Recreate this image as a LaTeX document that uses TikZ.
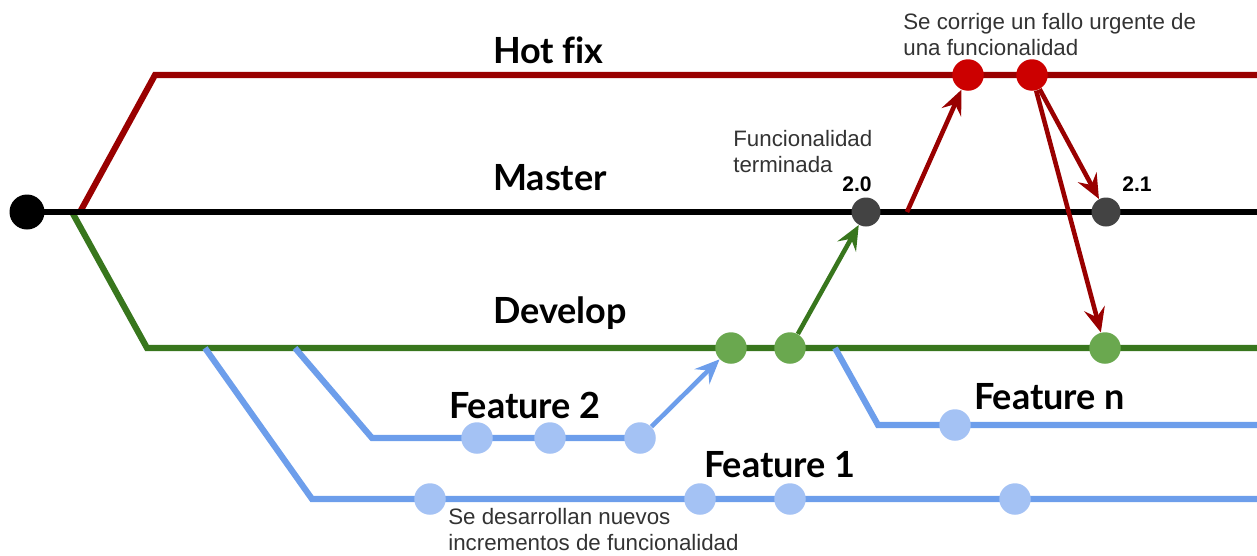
\documentclass[tikz,border=0pt]{standalone}
\usepackage{fontspec}
\setmainfont{Liberation Sans}
\newfontfamily\branchfont{Lato}[Ligatures=NoCommon]
\usetikzlibrary{arrows.meta}

\definecolor{hotline}{HTML}{990000}
\definecolor{hotdot}{HTML}{CC0000}
\definecolor{devline}{HTML}{38761D}
\definecolor{devdot}{HTML}{6AA84F}
\definecolor{featline}{HTML}{6D9EEB}
\definecolor{featdot}{HTML}{A4C2F4}
\definecolor{tagdot}{HTML}{434343}

\pgfdeclarelayer{lines}
\pgfsetlayers{lines,main}

\begin{document}
\begin{tikzpicture}[x=0.02cm, y=-0.02cm]
    \tikzstyle{branch} = [line width=3.5pt, line join=miter]
    \tikzstyle{merge} = [line width=2.6pt, -{Stealth[length=14pt, width=12pt, inset=5pt]}]
    \tikzstyle{commit} = [circle, inner sep=0pt, minimum size=0.63cm]
    \tikzstyle{title} = [anchor=west, font=\branchfont\bfseries\fontsize{20.5}{22}\selectfont]
    \tikzstyle{note} = [anchor=base west, align=left, inner sep=0pt, font=\fontsize{12.7}{14.7}\selectfont, text=black!80]
    \tikzstyle{version} = [font=\bfseries\fontsize{12}{14}\selectfont]
    \useasboundingbox (0, 0) rectangle (1257, 555);

    % corners of the branches
    \coordinate (hotfrom) at (80, 212);
    \coordinate (hotturn) at (155, 75);
    \coordinate (hotend) at (1257, 75);
    \coordinate (masterend) at (1257, 212);
    \coordinate (devfrom) at (72, 212);
    \coordinate (devturn) at (147, 348);
    \coordinate (devend) at (1257, 348);
    \coordinate (f1from) at (205, 348);
    \coordinate (f1turn) at (312, 499);
    \coordinate (f1end) at (1257, 499);
    \coordinate (f2from) at (295, 348);
    \coordinate (f2turn) at (372, 438);
    \coordinate (fnfrom) at (835, 348);
    \coordinate (fnturn) at (878, 425);
    \coordinate (fnend) at (1257, 425);
    \coordinate (fixfrom) at (907, 212);

    % commits
    \node[commit, fill=black, minimum size=0.7cm] (start) at (27, 212) {};
    \node[commit, fill=tagdot, minimum size=0.58cm] (m20) at (866, 212) {};
    \node[commit, fill=tagdot, minimum size=0.58cm] (m21) at (1106, 212) {};
    \node[commit, fill=hotdot] (h1) at (968, 75) {};
    \node[commit, fill=hotdot] (h2) at (1032, 75) {};
    \node[commit, fill=devdot] (d1) at (731, 348) {};
    \node[commit, fill=devdot] (d2) at (790, 348) {};
    \node[commit, fill=devdot] (d3) at (1105, 348) {};
    \node[commit, fill=featdot] (f2a) at (477, 438) {};
    \node[commit, fill=featdot] (f2b) at (550, 438) {};
    \node[commit, fill=featdot] (f2c) at (640, 438) {};
    \node[commit, fill=featdot] (fna) at (955, 425) {};
    \node[commit, fill=featdot] (f1a) at (430, 499) {};
    \node[commit, fill=featdot] (f1b) at (700, 499) {};
    \node[commit, fill=featdot] (f1c) at (790, 499) {};
    \node[commit, fill=featdot] (f1d) at (1015, 499) {};

    % branches, behind the commits
    \begin{pgfonlayer}{lines}
        \draw[branch, hotline] (hotfrom) -- (hotturn) -- (hotend);
        \draw[branch, devline] (devfrom) -- (devturn) -- (devend);
        \draw[branch, featline] (f1from) -- (f1turn) -- (f1end);
        \draw[branch, featline] (f2from) -- (f2turn) -- (f2c.center);
        \draw[branch, featline] (fnfrom) -- (fnturn) -- (fnend);
        \draw[branch, black] (start.center) -- (masterend);
    \end{pgfonlayer}

    % merges
    \draw[merge, featline] (f2c) -- (d1);
    \draw[merge, devline] (d2) -- (m20);
    \draw[merge, hotline] (fixfrom) -- (h1);
    \draw[merge, hotline] (h2) -- (m21);
    \draw[merge, hotline] (h2) -- (d3);

    % labels
    \node[title] (thot) at (487, 50) {Hot fix};
    \node[title] (tmaster) at (487, 178) {Master};
    \node[title] (tdev) at (487, 313) {Develop};
    \node[title] (tf2) at (443, 405) {Feature 2};
    \node[title] (tfn) at (968, 397) {Feature n};
    \node[title] (tf1) at (698, 465) {Feature 1};
    \node[version] (v20) at (857, 184) {2.0};
    \node[version] (v21) at (1137, 184) {2.1};
    \node[note] (nfix) at (903, 55) {Se corrige un fallo urgente de\\una funcionalidad};
    \node[note] (ndone) at (733, 172) {Funcionalidad\\terminada};
    \node[note] (ninc) at (448, 550) {Se desarrollan nuevos\\incrementos de funcionalidad};
\end{tikzpicture}
\end{document}
